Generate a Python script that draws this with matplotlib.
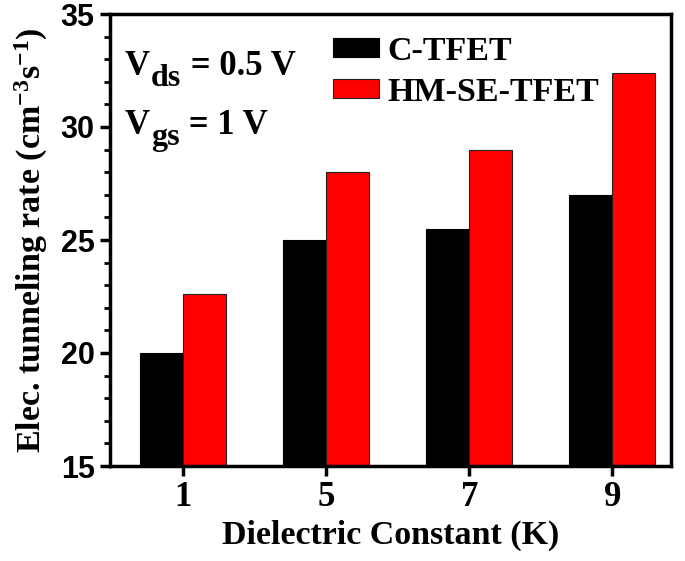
import matplotlib
matplotlib.use("Agg")
import matplotlib.pyplot as plt
import numpy as np
from matplotlib.ticker import MultipleLocator
from matplotlib.transforms import offset_copy

categories = ["1", "5", "7", "9"]
c_tfet = [20.0, 25.0, 25.5, 27.0]
hm_se_tfet = [22.6, 28.0, 29.0, 32.4]
series_names = ["C-TFET", "HM-SE-TFET"]

plt.rcParams['mathtext.fontset'] = 'custom'
plt.rcParams['mathtext.rm'] = 'Liberation Serif:bold'
plt.rcParams['mathtext.bf'] = 'Liberation Serif:bold'
plt.rcParams['mathtext.it'] = 'Liberation Serif:bold'
plt.rcParams['mathtext.default'] = 'bf'

fig = plt.figure(figsize=(6.85, 5.61), dpi=100)
ax = fig.add_axes([110/685, 1-466/561, (671-110)/685, (466-14)/561])

x = np.arange(len(categories))
w = 0.3
ax.bar(x - w/2, c_tfet, width=w, color='black', edgecolor='black', linewidth=0.8, label=series_names[0])
ax.bar(x + w/2, hm_se_tfet, width=w, color='#ff0000', edgecolor='#222222', linewidth=0.8, label=series_names[1])

ax.set_ylim(15, 35)
ax.set_xlim(-0.51, 3.41)
ax.set_xticks(x)
ax.set_xticklabels(categories, fontfamily='Liberation Serif', fontweight='bold', fontsize=25)
ax.yaxis.set_major_locator(MultipleLocator(5))
ax.yaxis.set_minor_locator(MultipleLocator(1))
for lbl in ax.get_yticklabels():
    lbl.set_fontfamily('Liberation Sans')
    lbl.set_fontweight('bold')
    lbl.set_fontsize(22)

ax.tick_params(axis='both', which='major', direction='out', length=7, width=2.5, pad=4)
ax.tick_params(axis='y', which='minor', direction='out', length=4, width=2)
ax.tick_params(axis='x', which='minor', bottom=False)
for s in ax.spines.values():
    s.set_linewidth(2.5)

ax.set_xlabel("Dielectric Constant (K)", fontfamily='Liberation Serif', fontweight='bold', fontsize=24.5, labelpad=4)
ax.set_ylabel(r"Elec. tunneling rate (cm$^{-3}$s$^{-1}$)", fontfamily='Liberation Serif', fontweight='bold', fontsize=24.5, labelpad=8)

# annotations composed of pieces
fig.canvas.draw()
renderer = fig.canvas.get_renderer()
def compose(y_frac, parts):
    trans = ax.transAxes
    x0 = 0.026
    dx = 0
    for txt, size, dy in parts:
        tr = offset_copy(trans, fig=fig, x=dx, y=dy, units='dots')
        t = ax.text(x0, y_frac, txt, transform=tr, fontfamily='Liberation Serif',
                    fontweight='bold', fontsize=size, va='baseline', ha='left')
        bb = t.get_window_extent(renderer=renderer)
        dx += bb.width + 1
compose(0.865, [("V", 25, 0), ("ds", 23, -11), (" = 0.5 V", 25, 0)])
compose(0.735, [("V", 25, 0), ("gs", 23, -11), (" = 1 V", 25, 0)])

leg = ax.legend(loc='upper left', bbox_to_anchor=(0.355, 1.005), frameon=False,
                prop={'family': 'Liberation Serif', 'weight': 'bold', 'size': 24.5},
                handlelength=1.35, handleheight=0.5, handletextpad=0.25, labelspacing=0.3,
                borderaxespad=0.3)

fig.savefig("out.png", dpi=100)
